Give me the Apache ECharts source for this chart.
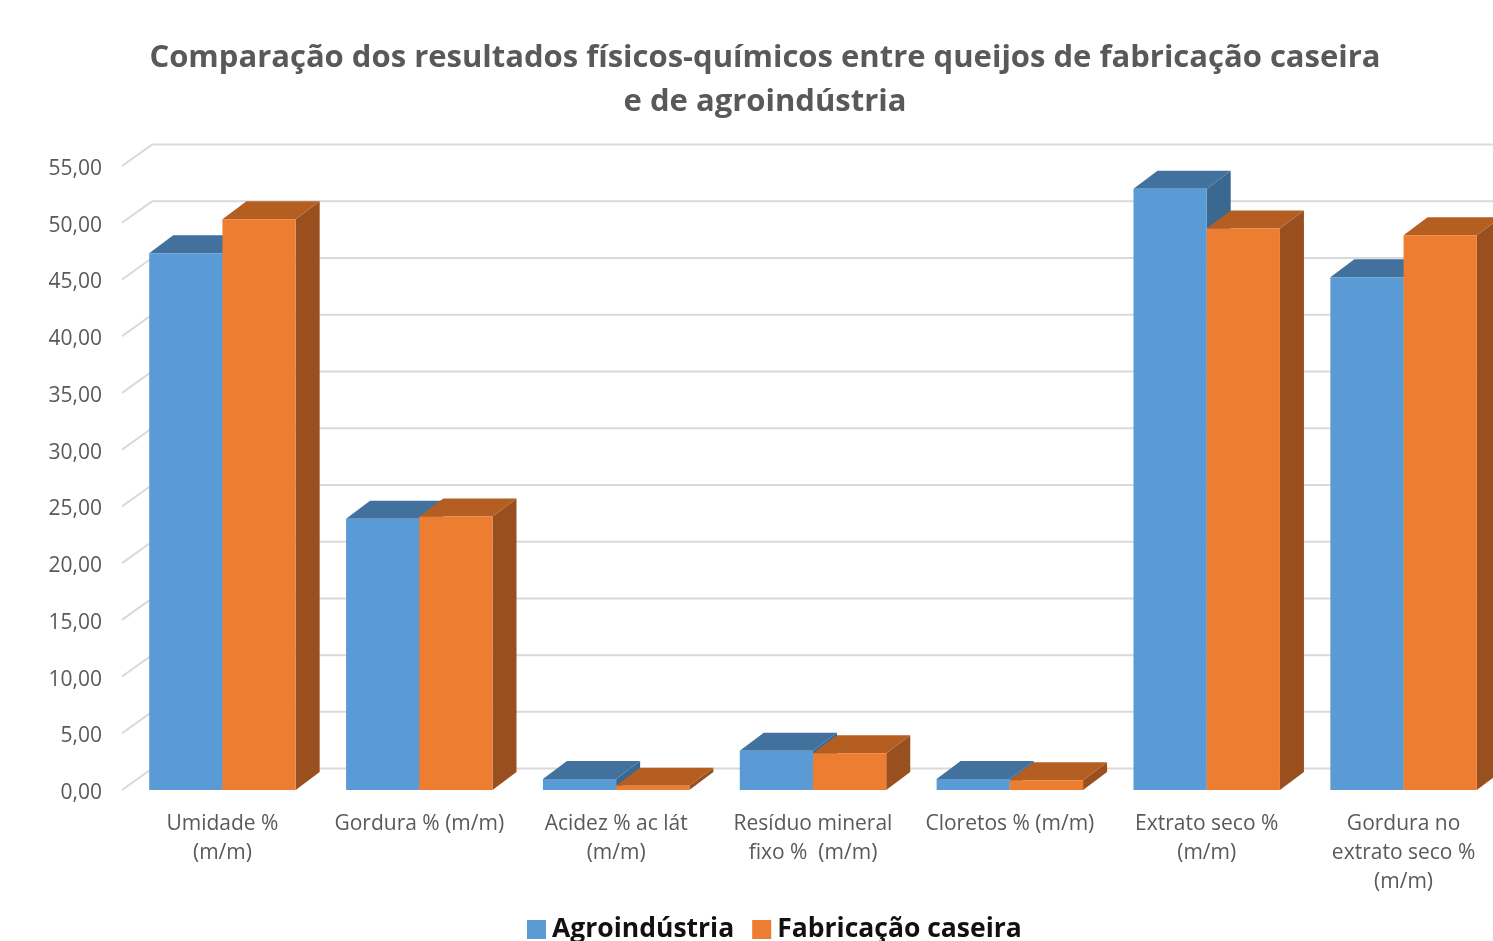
<!DOCTYPE html>
<html>
<head>
<meta charset="utf-8">
<script src="https://cdn.jsdelivr.net/npm/echarts@6/dist/echarts.min.js"></script>
<style>html,body{margin:0;padding:0;background:#fff;overflow:hidden;}#c{width:1530px;height:941px;}</style>
</head>
<body>
<div id="c"></div>
<script>
var categories = ['Umidade %\n(m/m)', 'Gordura % (m/m)', 'Acidez % ac lát\n(m/m)', 'Resíduo mineral\nfixo %  (m/m)', 'Cloretos % (m/m)', 'Extrato seco %\n(m/m)', 'Gordura no\nextrato seco %\n(m/m)'];
var agroindustria = [47.3, 23.9, 0.97, 3.46, 0.97, 53.0, 45.2];
var caseira = [50.3, 24.1, 0.38, 3.23, 0.85, 49.5, 48.9];
var yTicks = [0, 5, 10, 15, 20, 25, 30, 35, 40, 45, 50, 55];
var seriesNames = ['Agroindústria', 'Fabricação caseira'];
var titleText = 'Comparação dos resultados físicos-químicos entre queijos de fabricação caseira\ne de agroindústria';

var DX = 24, DY = -18;      // bar depth
var WX = 28, WY = -21.4;    // back wall offset
var palette = [
  {front: '#5B9BD5', top: '#41719C', side: '#3A6891'},
  {front: '#ED7D31', top: '#B45E22', side: '#9A501E'}
];

function barRenderer(si) {
  return function (params, api) {
    var ci = api.value(0), v = api.value(1);
    var base = api.coord([ci, 0]);
    var top = api.coord([ci, v]);
    var band = api.size([1, 0])[0];
    var bw = band * 0.372;
    var x0 = si === 0 ? base[0] - bw : base[0];
    var x1 = x0 + bw;
    var yt = top[1], yb = base[1];
    var c = palette[si];
    return {
      type: 'group',
      children: [
        {type: 'polygon', shape: {points: [[x1, yt], [x1 + DX, yt + DY], [x1 + DX, yb + DY], [x1, yb]]}, style: {fill: c.side}},
        {type: 'polygon', shape: {points: [[x0, yt], [x1, yt], [x1 + DX, yt + DY], [x0 + DX, yt + DY]]}, style: {fill: c.top}},
        {type: 'rect', shape: {x: x0, y: yt, width: bw, height: yb - yt}, style: {fill: c.front}}
      ]
    };
  };
}

function wallRenderer(params, api) {
  var cs = params.coordSys;
  var y = api.coord([0, api.value(1)])[1];
  return {
    type: 'group',
    children: [
      {type: 'line', shape: {x1: cs.x - 2, y1: y, x2: cs.x + WX, y2: y + WY}, style: {stroke: '#D9D9D9', lineWidth: 2}},
      {type: 'line', shape: {x1: cs.x + WX, y1: y + WY, x2: cs.x + cs.width + 40, y2: y + WY}, style: {stroke: '#D9D9D9', lineWidth: 2}}
    ]
  };
}

var chart = echarts.init(document.getElementById('c'), null, {renderer: 'canvas'});
chart.setOption({
  animation: false,
  color: [palette[0].front, palette[1].front],
  title: {
    text: titleText,
    left: 'center',
    top: 31,
    textStyle: {fontFamily: 'Open Sans', fontWeight: 'bold', fontSize: 31, color: '#595959', lineHeight: 44}
  },
  legend: {
    data: seriesNames,
    bottom: -2,
    left: 527,
    padding: 0,
    itemWidth: 19,
    itemHeight: 19,
    itemGap: 18,
    icon: 'rect',
    textStyle: {fontFamily: 'Open Sans', fontWeight: 'bold', fontSize: 26.5, color: '#111', padding: [0, 0, 0, 1]}
  },
  grid: {left: 124, top: 166, width: 1378, height: 624},
  xAxis: {
    type: 'category',
    data: categories,
    axisLine: {show: false},
    axisTick: {show: false},
    axisLabel: {fontFamily: 'Open Sans', fontSize: 21, color: '#595959', lineHeight: 29, margin: 20, interval: 0}
  },
  yAxis: {
    type: 'value',
    min: 0, max: 55, interval: 5,
    axisLine: {show: false},
    axisTick: {show: false},
    splitLine: {show: false},
    axisLabel: {
      margin: 22,
      formatter: function (v) { return '{a|' + v.toFixed(2).replace('.', ',') + '}'; },
      rich: {a: {fontFamily: 'Open Sans', fontSize: 21, color: '#595959', padding: [6, 0, 0, 0]}}
    }
  },
  series: [
    {type: 'custom', name: 'wall', renderItem: wallRenderer, data: yTicks.map(function (t) { return [0, t]; }), z: 1, silent: true, clip: false},
    {type: 'custom', name: seriesNames[0], renderItem: barRenderer(0), data: agroindustria.map(function (v, i) { return [i, v]; }), z: 2, itemStyle: {color: palette[0].front}},
    {type: 'custom', name: seriesNames[1], renderItem: barRenderer(1), data: caseira.map(function (v, i) { return [i, v]; }), z: 3, itemStyle: {color: palette[1].front}}
  ]
});
</script>
</body>
</html>
